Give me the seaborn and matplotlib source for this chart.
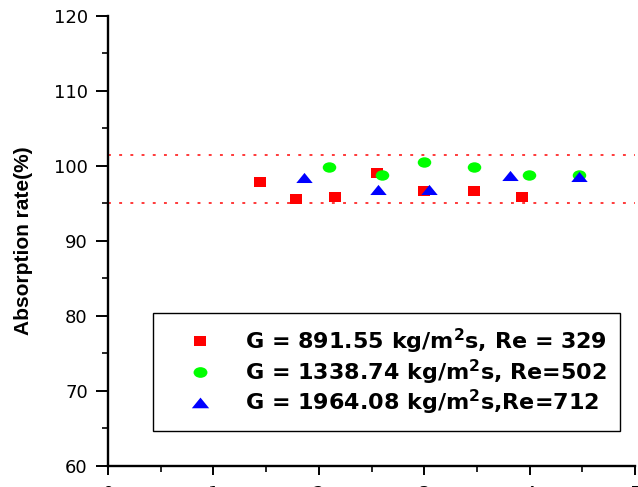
import numpy as np
import pandas as pd
import matplotlib
matplotlib.use("Agg")
import matplotlib.pyplot as plt
import seaborn as sns
from matplotlib.path import Path
from matplotlib.transforms import Affine2D
from matplotlib.lines import Line2D
from matplotlib.ticker import MultipleLocator

# ---- data ----
x_red = [1.44, 1.78, 2.15, 2.55, 3.00, 3.47, 3.93]
y_red = [97.8, 95.6, 95.9, 99.0, 96.7, 96.7, 95.8]
x_green = [2.10, 2.60, 3.00, 3.47, 3.99, 4.47]
y_green = [99.9, 98.8, 100.6, 99.8, 98.8, 98.8]
x_blue = [1.86, 2.56, 3.05, 3.81, 4.47]
y_blue = [98.4, 96.8, 96.8, 98.7, 98.6]
labels = ["G = 891.55 kg/m$^{\\mathbf{2}}$s, Re = 329",
          "G = 1338.74 kg/m$^{\\mathbf{2}}$s, Re=502",
          "G = 1964.08 kg/m$^{\\mathbf{2}}$s,Re=712"]
band = [101.5, 95.0]
x_ticks = [0, 1, 2, 3, 4, 5]
y_ticks = [60, 70, 80, 90, 100, 110, 120]

sns.set_style("ticks")
plt.rcParams['font.family'] = ['DejaVu Sans']
plt.rcParams['mathtext.fontset'] = 'dejavusans'
plt.rcParams['text.color'] = 'black'
plt.rcParams['axes.labelcolor'] = 'black'

fig = plt.figure(figsize=(6.38, 4.87), dpi=100)
ax = fig.add_axes([108/638, 21/487, 527/638, 450/487])

sq = Path([(-1, -0.75), (1, -0.75), (1, 0.75), (-1, 0.75), (-1, -0.75)],
          [Path.MOVETO, Path.LINETO, Path.LINETO, Path.LINETO, Path.CLOSEPOLY])
ell = Path.unit_circle().transformed(Affine2D().scale(1, 0.77))
tri = Path([(-1, -0.55), (1, -0.55), (0, 0.68), (-1, -0.55)],
           [Path.MOVETO, Path.LINETO, Path.LINETO, Path.CLOSEPOLY])

for yv in band:
    ax.axhline(yv, color='#ff2a2a', lw=1.3, ls=(0, (1.6, 4.6)), zorder=1)

sns.scatterplot(x=x_red, y=y_red, marker=sq, s=80, color='#ff0000',
                linewidth=0, ax=ax, legend=False, zorder=3)
sns.scatterplot(x=x_green, y=y_green, marker=ell, s=95, color='#00ff00',
                linewidth=0, ax=ax, legend=False, zorder=4)
sns.scatterplot(x=x_blue, y=y_blue, marker=tri, s=140, color='#0000ff',
                linewidth=0, ax=ax, legend=False, zorder=5)

ax.set_xlim(0, 5)
ax.set_ylim(60, 120)
ax.set_xticks(x_ticks)
ax.set_yticks(y_ticks)
ax.xaxis.set_minor_locator(MultipleLocator(0.5))
ax.yaxis.set_minor_locator(MultipleLocator(5))
for s in ['top', 'right']:
    ax.spines[s].set_visible(False)
for s in ['left', 'bottom']:
    ax.spines[s].set_linewidth(1.7)
    ax.spines[s].set_color('black')
ax.tick_params(axis='y', which='major', length=8.5, width=1.4, direction='out',
               labelsize=13, pad=6, colors='black')
ax.tick_params(axis='y', which='minor', length=4.5, width=1.4, direction='out')
ax.tick_params(axis='x', which='major', length=6.5, width=1.4, direction='out',
               labelsize=13, pad=7, colors='black')
ax.tick_params(axis='x', which='minor', length=4.3, width=1.4, direction='out')

ax.set_xlabel("")
ax.set_ylabel("Absorption rate(%)", fontsize=15, fontweight='bold',
              family=['Liberation Sans'], labelpad=15, color='black')

handles = [
    Line2D([], [], ls='none', marker=sq, markersize=9, color='#ff0000', mew=0),
    Line2D([], [], ls='none', marker=ell, markersize=10, color='#00ff00', mew=0),
    Line2D([], [], ls='none', marker=tri, markersize=12.5, color='#0000ff', mew=0),
]
leg = ax.legend(handles, labels, loc='upper left',
                bbox_to_anchor=((153-108)/527, (466-313)/450),
                borderaxespad=0, frameon=True, fancybox=False,
                prop={'weight': 'bold', 'size': 16, 'family': 'DejaVu Sans'},
                handlelength=3.0, handletextpad=0.55, borderpad=0.6,
                labelspacing=0.08)
for t in leg.get_texts():
    t.set_color('black')
leg.get_frame().set_edgecolor('black')
leg.get_frame().set_linewidth(1.0)
leg.get_frame().set_alpha(1)

fig.savefig("out.png", dpi=100)
